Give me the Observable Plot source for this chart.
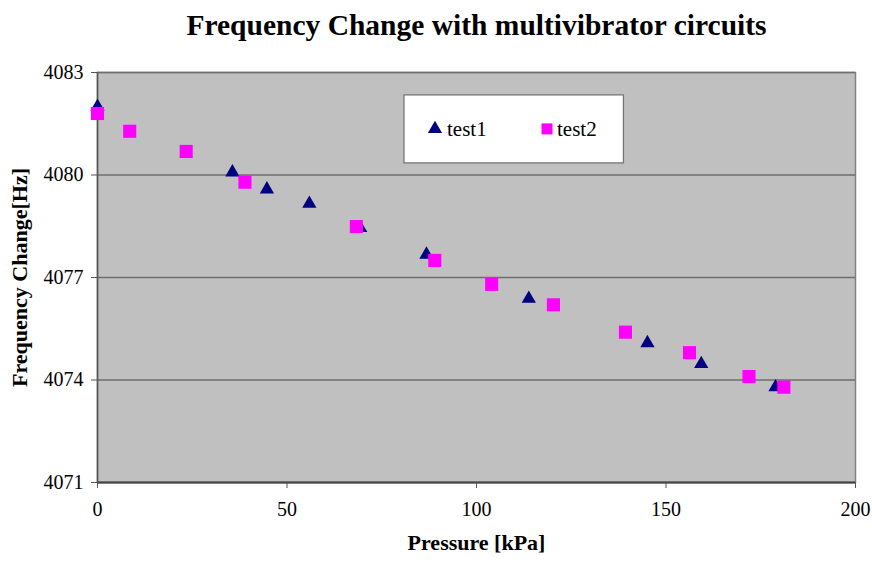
<!DOCTYPE html>
<html>
<head>
<meta charset="utf-8">
<script src="https://cdn.jsdelivr.net/npm/d3@7"></script>
<script src="https://cdn.jsdelivr.net/npm/@observablehq/plot@0.6"></script>
<style>
  html, body { margin: 0; padding: 0; background: #fff; }
  #chart { position: relative; width: 872px; height: 564px; }
  #chart svg, #chart svg text { font-family: 'Liberation Serif', 'Times New Roman', serif !important; }
</style>
</head>
<body>
<div id="chart"></div>
<script>
// Series data
const test1Pressure = [0, 35.6, 44.7, 55.9, 69.3, 86.8, 113.8, 145.1, 159.3, 178.9];
const test1Freq     = [4082.0, 4080.08, 4079.58, 4079.16, 4078.45, 4077.67, 4076.38, 4075.08, 4074.47, 4073.79];
const test2Pressure = [0, 8.5, 23.4, 38.9, 68.3, 89.0, 104.0, 120.3, 139.3, 156.2, 171.9, 181.1];
const test2Freq     = [4081.8, 4081.28, 4080.69, 4079.79, 4078.49, 4077.50, 4076.80, 4076.20, 4075.40, 4074.80, 4074.10, 4073.79];
const xTicks = [0, 50, 100, 150, 200];
const yTicks = [4071, 4074, 4077, 4080, 4083];
const seriesNames = ["test1", "test2"];
const titleText = "Frequency Change with multivibrator circuits";
const xLabel = "Pressure [kPa]";
const yLabel = "Frequency Change[Hz]";

const test1 = test1Pressure.map((p, i) => ({p, f: test1Freq[i]}));
const test2 = test2Pressure.map((p, i) => ({p, f: test2Freq[i]}));

const serif = "'Liberation Serif', 'Times New Roman', serif";

const plot = Plot.plot({
  width: 872,
  height: 564,
  marginLeft: 97,
  marginRight: 17,
  marginTop: 72,
  marginBottom: 82,
  style: { fontFamily: serif, fontSize: "16px", color: "#000", background: "#fff", overflow: "visible" },
  x: { domain: [0, 200], ticks: xTicks, label: null },
  y: { domain: [4071, 4083], ticks: yTicks, label: null },
  marks: [
    Plot.frame({ fill: "#c0c0c0", stroke: "#808080", strokeWidth: 1.5 }),
    Plot.gridY(yTicks, { stroke: "#6e6e6e", strokeOpacity: 1, strokeWidth: 1.3 }),
    Plot.ruleX([0], { stroke: "#555", strokeWidth: 1.5 }),
    Plot.ruleY([4071], { stroke: "#444", strokeWidth: 2 }),
    Plot.axisX({ ticks: xTicks, tickSize: 6, tickPadding: 13, stroke: "#555", fontSize: 20, fill: "#000", tickFormat: d => String(d) }),
    Plot.axisY({ ticks: yTicks, tickSize: 6, tickPadding: 8, stroke: "#555", fontSize: 20, fill: "#000", tickFormat: d => String(d) }),
    Plot.dot(test1, { x: "p", y: "f", symbol: "triangle", r: 5.3, fill: "#000080", stroke: "none" }),
    Plot.dot(test2, { x: "p", y: "f", symbol: "square", r: 7.4, fill: "#ff00ff", stroke: "none" }),
    Plot.text([titleText], { frameAnchor: "top", dy: -58, fontSize: 29.5, fontWeight: "bold", fill: "#000" }),
    Plot.text([xLabel], { frameAnchor: "bottom", dy: 67, fontSize: 22, fontWeight: "bold", fill: "#000" }),
    Plot.text([yLabel], { frameAnchor: "left", dx: -78, dy: 0, rotate: -90, textAnchor: "middle", fontSize: 22, fontWeight: "bold", fill: "#000" })
  ]
});

// Legend box drawn inside the SVG, positioned through the scales
const svg = d3.select(plot);
const sx = plot.scale("x"), sy = plot.scale("y");
const lx0 = sx.apply(81), lx1 = sx.apply(138.9);
const ly0 = sy.apply(4082.33), ly1 = sy.apply(4080.34);
const g = svg.append("g");
g.append("rect")
  .attr("x", lx0).attr("y", ly0)
  .attr("width", lx1 - lx0).attr("height", ly1 - ly0)
  .attr("fill", "#fff").attr("stroke", "#777").attr("stroke-width", 1.3);
const cy = (ly0 + ly1) / 2;
const tri = d3.symbol(d3.symbolTriangle, Math.PI * 5.3 * 5.3)();
const sq = d3.symbol(d3.symbolSquare, Math.PI * 6.2 * 6.2)();
g.append("path").attr("d", tri).attr("transform", `translate(${lx0 + 31},${cy})`).attr("fill", "#000080");
g.append("text").attr("x", lx0 + 43).attr("y", cy).attr("dy", "0.35em").attr("text-anchor", "start")
  .attr("font-family", serif).attr("font-size", 21).attr("fill", "#000").text(seriesNames[0]);
g.append("path").attr("d", sq).attr("transform", `translate(${lx0 + 143},${cy})`).attr("fill", "#ff00ff");
g.append("text").attr("x", lx0 + 153).attr("y", cy).attr("dy", "0.35em").attr("text-anchor", "start")
  .attr("font-family", serif).attr("font-size", 21).attr("fill", "#000").text(seriesNames[1]);

document.getElementById("chart").appendChild(plot);
</script>
</body>
</html>
